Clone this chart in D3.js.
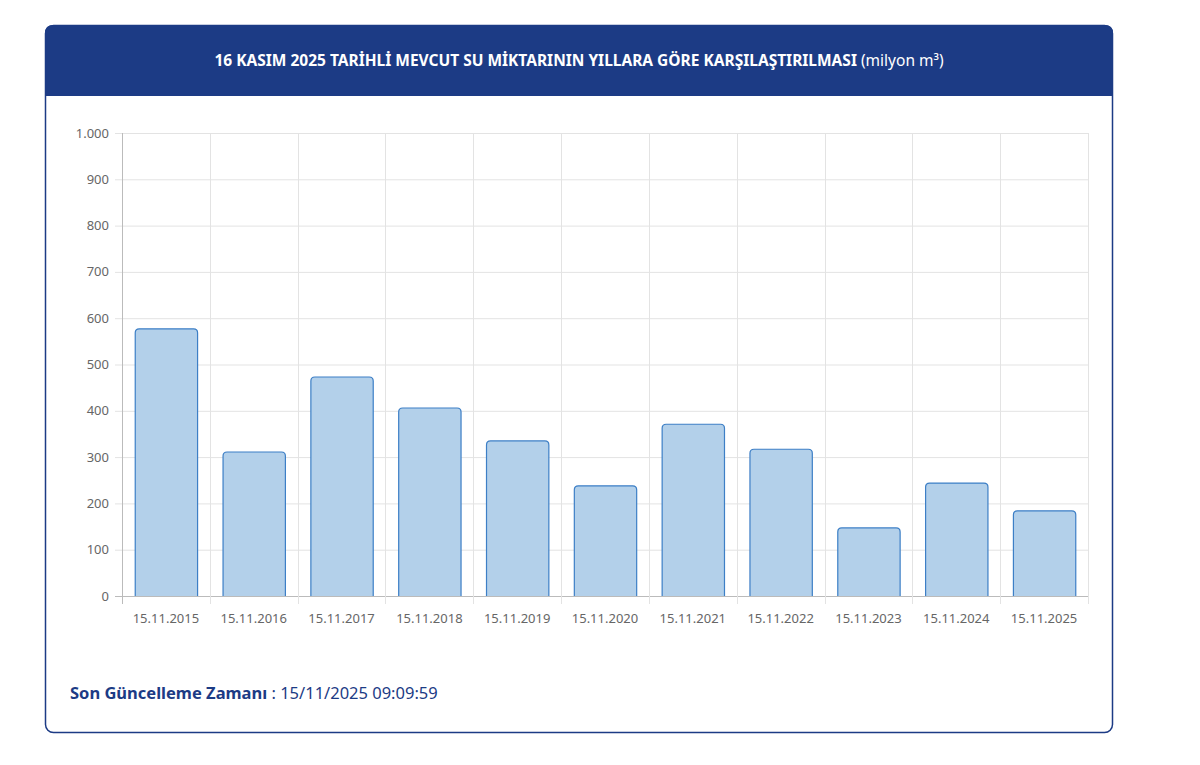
<!DOCTYPE html>
<html lang="tr">
<head>
<meta charset="UTF-8">
<script src="https://d3js.org/d3.v7.min.js"></script>
<style>
  body { margin: 0; background: #fff; font-family: "Noto Sans", sans-serif; }
</style>
</head>
<body>
<svg id="chart" width="1200" height="765"></svg>
<script>
// chart data
var dates = ["15.11.2015","15.11.2016","15.11.2017","15.11.2018","15.11.2019","15.11.2020","15.11.2021","15.11.2022","15.11.2023","15.11.2024","15.11.2025"];
var volumes = [577, 311, 473, 406, 335, 238, 371, 317, 147, 244, 184];
var yTicks = [0,100,200,300,400,500,600,700,800,900,1000];

var svg = d3.select('#chart');
var navy = '#1c3b85';

// card + header
svg.append('rect').attr('x', 45.5).attr('y', 25.5).attr('width', 1067).attr('height', 707)
    .attr('rx', 8).attr('fill', '#fff').attr('stroke', navy).attr('stroke-width', 1.5);
svg.append('path')
    .attr('d', 'M45,96 V33 Q45,25 53,25 H1105 Q1113,25 1113,33 V96 Z')
    .attr('fill', navy);
var title = svg.append('text').attr('x', 579).attr('y', 66).attr('text-anchor', 'middle')
    .attr('fill', '#fff').attr('font-size', 15.5).attr('font-weight', 'bold');
title.append('tspan').text('16 KASIM 2025 TARİHLİ MEVCUT SU MİKTARININ YILLARA GÖRE KARŞILAŞTIRILMASI ');
title.append('tspan').attr('font-weight', 'normal').text('(milyon m³)');

var m = {left: 122, right: 1088, top: 133, bottom: 596};

var x = d3.scaleBand().domain(dates).range([m.left, m.right]).paddingInner(0.29).paddingOuter(0.145);
var y = d3.scaleLinear().domain([0, 1000]).range([m.bottom, m.top]);

// grid
var g = svg.append('g');
g.selectAll('.hg').data(yTicks).enter().append('line')
    .attr('x1', m.left - 7).attr('x2', m.right)
    .attr('y1', function(d){ return y(d) + 0.5; }).attr('y2', function(d){ return y(d) + 0.5; })
    .attr('stroke', function(d){ return d === 0 ? '#bbb' : '#e3e3e3'; });
var step = x.step();
var bounds = d3.range(dates.length + 1).map(function(i){ return m.left + i * step; });
g.selectAll('.vg').data(bounds).enter().append('line')
    .attr('x1', function(d){ return Math.round(d) + 0.5; }).attr('x2', function(d){ return Math.round(d) + 0.5; })
    .attr('y1', m.top).attr('y2', m.bottom + 8)
    .attr('stroke', function(d, i){ return i === 0 ? '#bbb' : '#e3e3e3'; });

// y labels
g.selectAll('.yl').data(yTicks).enter().append('text')
    .attr('x', 109).attr('y', function(d){ return y(d) + 4.5; })
    .attr('text-anchor', 'end').attr('font-size', 13).attr('fill', '#666')
    .text(function(d){ return d3.format(',')(d).replace(',', '.'); });

// x labels
g.selectAll('.xl').data(dates).enter().append('text')
    .attr('x', function(d){ return x(d) + x.bandwidth() / 2; }).attr('y', 623)
    .attr('text-anchor', 'middle').attr('font-size', 13).attr('fill', '#666')
    .text(function(d){ return d; });

// bars with rounded tops
function barPath(d, i) {
    var x0 = x(dates[i]) + 0.5, w = x.bandwidth(), y0 = y(d), yb = y(0), r = 4;
    return 'M' + x0 + ',' + yb + ' V' + (y0 + r) + ' Q' + x0 + ',' + y0 + ' ' + (x0 + r) + ',' + y0 +
        ' H' + (x0 + w - r) + ' Q' + (x0 + w) + ',' + y0 + ' ' + (x0 + w) + ',' + (y0 + r) + ' V' + yb;
}
svg.append('g').selectAll('path').data(volumes).enter().append('path')
    .attr('d', barPath).attr('fill', '#b3d0ea').attr('stroke', '#3d7fc6').attr('stroke-width', 1.2);

// footer
var foot = svg.append('text').attr('x', 70).attr('y', 699).attr('font-size', 16.5).attr('fill', navy);
foot.append('tspan').attr('font-weight', 'bold').text('Son Güncelleme Zamanı');
foot.append('tspan').text(' : 15/11/2025 09:09:59');
</script>
</body>
</html>
